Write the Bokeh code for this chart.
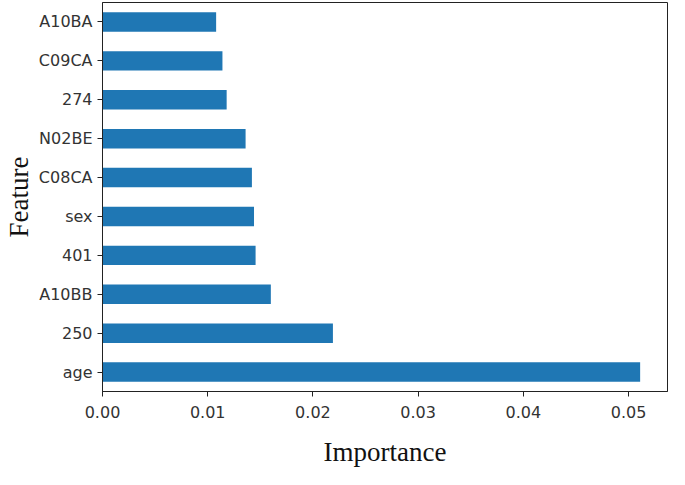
from bokeh.plotting import figure
from bokeh.models import Range1d, FactorRange, FixedTicker, NumeralTickFormatter, ColumnDataSource
from bokeh.embed import file_html
from bokeh.resources import INLINE

features = ["age", "250", "A10BB", "401", "sex", "C08CA", "N02BE", "274", "C09CA", "A10BA"]
importance = [0.0511, 0.0219, 0.0160, 0.01455, 0.0144, 0.0142, 0.0136, 0.0118, 0.0114, 0.0108]
x_ticks = [0.0, 0.01, 0.02, 0.03, 0.04, 0.05]

src = ColumnDataSource(dict(feature=features, importance=importance))

p = figure(width=669, height=469, output_backend="svg", toolbar_location=None,
           y_range=FactorRange(*features), x_range=Range1d(0, 0.0537))
p.hbar(y="feature", right="importance", left=0, height=0.5, source=src,
       fill_color="#1f77b4", line_color=None)

p.min_border_left = 98
p.min_border_top = 2
p.min_border_right = 2
p.min_border_bottom = 70

p.xgrid.visible = False
p.ygrid.visible = False
p.outline_line_color = "#222222"
p.outline_line_width = 1

for ax in (p.xaxis[0], p.yaxis[0]):
    ax.axis_line_color = "#222222"
    ax.major_tick_line_color = "#222222"
    ax.major_tick_out = 5
    ax.major_tick_in = 0
    ax.minor_tick_line_color = None
    ax.major_label_text_font = "DejaVu Sans"
    ax.major_label_text_font_size = "16px"
    ax.major_label_text_color = "#333333"
    ax.axis_label_text_font = "Liberation Serif"
    ax.axis_label_text_font_size = "27px"
    ax.axis_label_text_font_style = "normal"
    ax.axis_label_text_color = "#111111"

p.xaxis.ticker = FixedTicker(ticks=x_ticks)
p.xaxis.formatter = NumeralTickFormatter(format="0.00")
p.xaxis.axis_label = "Importance"
p.xaxis.major_label_standoff = 9
p.xaxis.axis_label_standoff = 16

p.yaxis.axis_label = "Feature"
p.yaxis.major_label_standoff = 5
p.yaxis.axis_label_standoff = 2

open("out.html", "w").write(file_html(p, INLINE))
